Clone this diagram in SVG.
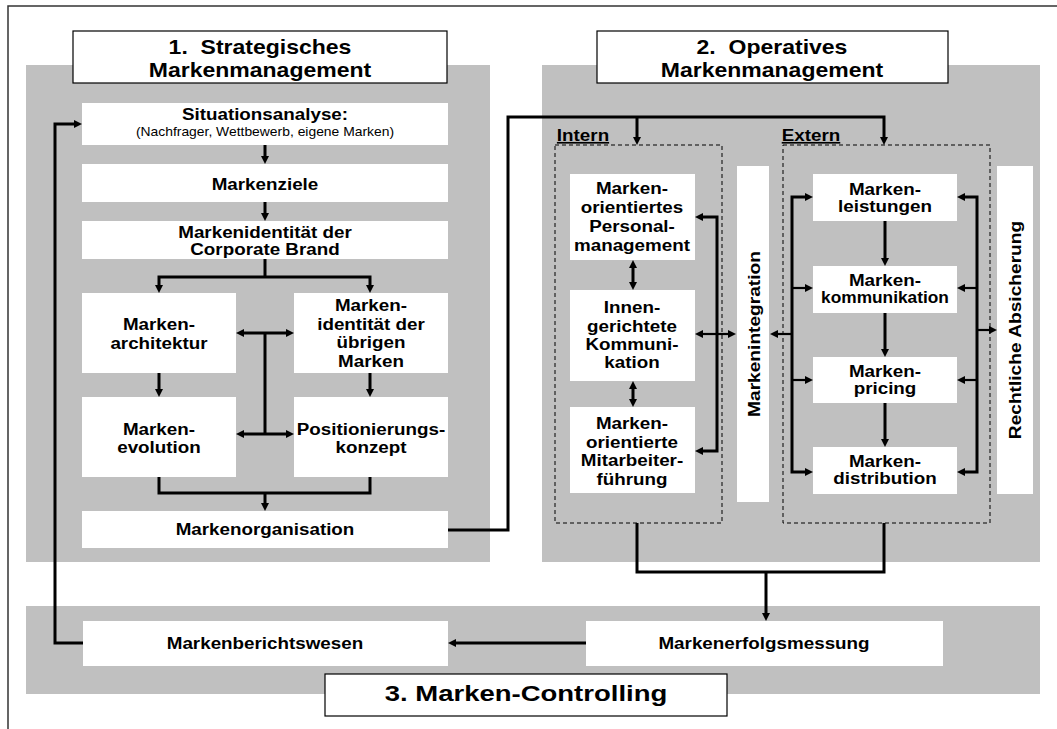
<svg xmlns="http://www.w3.org/2000/svg" width="1057" height="729" viewBox="0 0 1057 729">
<style>
text{font-family:"Liberation Sans",Arial,Helvetica,sans-serif;fill:#000;text-anchor:middle;transform-box:fill-box;transform-origin:center}
.n{font-weight:bold;font-size:16.8px;transform:scaleX(1.12)}
.s{font-size:12.4px;transform:scaleX(1.12)}
.t{font-weight:bold;font-size:20px;transform:scaleX(1.15)}
.t3{font-weight:bold;font-size:22px;transform:scaleX(1.25)}
.v{font-weight:bold;font-size:16.8px;dominant-baseline:central;transform:rotate(-90deg) scaleX(1.14)}
.lbl{font-weight:bold;font-size:16.8px;text-decoration:underline;transform:scaleX(1.12)}
.panel{fill:#c0c0c0}
.box{fill:#fff}
.title{fill:#fff;stroke:#000;stroke-width:1.2}
.dash{fill:none;stroke:#000;stroke-width:1;stroke-dasharray:4 3}
.c path{fill:none;stroke:#000;stroke-width:3}
.c path.th{stroke-width:2.2}
.a{marker-end:url(#ah)}
.b{marker-start:url(#ah);marker-end:url(#ah)}
</style>
<defs>
<marker id="ah" viewBox="0 0 8 8" refX="3" refY="4" markerWidth="8" markerHeight="8" markerUnits="userSpaceOnUse" orient="auto-start-reverse">
<path d="M0,0 L8,4 L0,8 z" fill="#000"/>
</marker>
</defs>
<rect width="1057" height="729" fill="#fff"/>
<path d="M8,729 V6 H1057" fill="none" stroke="#333" stroke-width="1.5"/>

<g id="panels">
<rect class="panel" x="26" y="65" width="464" height="497"/>
<rect class="panel" x="542" y="65" width="498" height="497"/>
<rect class="panel" x="26" y="606" width="1014" height="88"/>
</g>

<g id="title1"><rect class="title" x="73" y="31" width="374" height="52"/>
<text class="t" x="260" y="54">1.&#160; Strategisches</text>
<text class="t" x="260" y="77">Markenmanagement</text></g>
<g id="title2"><rect class="title" x="597" y="31" width="351" height="52"/>
<text class="t" x="772" y="54">2.&#160; Operatives</text>
<text class="t" x="772" y="77">Markenmanagement</text></g>
<g id="title3"><rect class="title" x="325" y="674" width="402" height="42"/>
<text class="t3" x="526" y="701">3. Marken-Controlling</text></g>

<g id="situationsanalyse"><rect class="box" x="82" y="103" width="366" height="42"/>
<text class="n" x="265" y="120.5">Situationsanalyse:</text>
<text class="s" x="265" y="136">(Nachfrager, Wettbewerb, eigene Marken)</text></g>
<g id="markenziele"><rect class="box" x="82" y="164" width="366" height="38"/>
<text class="n" x="265" y="190">Markenziele</text></g>
<g id="corporate"><rect class="box" x="82" y="221" width="366" height="38"/>
<text class="n" x="265" y="238">Markenidentität der</text>
<text class="n" x="265" y="255">Corporate Brand</text></g>
<g id="architektur"><rect class="box" x="82" y="293" width="154" height="80"/>
<text class="n" x="159" y="330">Marken-</text>
<text class="n" x="159" y="349">architektur</text></g>
<g id="uebrige"><rect class="box" x="294" y="293" width="154" height="80"/>
<text class="n" x="371" y="311">Marken-</text>
<text class="n" x="371" y="330">identität der</text>
<text class="n" x="371" y="348">übrigen</text>
<text class="n" x="371" y="367">Marken</text></g>
<g id="evolution"><rect class="box" x="82" y="397" width="154" height="80"/>
<text class="n" x="159" y="435">Marken-</text>
<text class="n" x="159" y="453">evolution</text></g>
<g id="positionierung"><rect class="box" x="294" y="397" width="154" height="80"/>
<text class="n" x="371" y="435">Positionierungs-</text>
<text class="n" x="371" y="453">konzept</text></g>
<g id="organisation"><rect class="box" x="82" y="511" width="366" height="37"/>
<text class="n" x="265" y="535">Markenorganisation</text></g>

<g id="intern"><rect class="dash" x="555" y="145" width="167" height="378"/>
<text class="lbl" x="583" y="141">Intern</text></g>
<g id="extern"><rect class="dash" x="783" y="145" width="207" height="378"/>
<text class="lbl" x="811" y="141">Extern</text></g>

<g id="personal"><rect class="box" x="570" y="174" width="125" height="86"/>
<text class="n" x="632" y="194.5">Marken-</text>
<text class="n" x="632" y="213.5">orientiertes</text>
<text class="n" x="632" y="232.5">Personal-</text>
<text class="n" x="632" y="251.5">management</text></g>
<g id="innen"><rect class="box" x="570" y="290" width="125" height="91"/>
<text class="n" x="632" y="313">Innen-</text>
<text class="n" x="632" y="332">gerichtete</text>
<text class="n" x="632" y="350">Kommuni-</text>
<text class="n" x="632" y="368">kation</text></g>
<g id="mitarbeiter"><rect class="box" x="570" y="407" width="125" height="86"/>
<text class="n" x="632" y="429">Marken-</text>
<text class="n" x="632" y="448">orientierte</text>
<text class="n" x="632" y="466">Mitarbeiter-</text>
<text class="n" x="632" y="485">führung</text></g>
<g id="integration"><rect class="box" x="737" y="166" width="32" height="336"/>
<text class="v" x="754" y="334">Markenintegration</text></g>

<g id="leistungen"><rect class="box" x="813" y="174" width="144" height="47"/>
<text class="n" x="885" y="195">Marken-</text>
<text class="n" x="885" y="212.5">leistungen</text></g>
<g id="kommunikation"><rect class="box" x="813" y="266" width="144" height="47"/>
<text class="n" x="885" y="286">Marken-</text>
<text class="n" x="885" y="303.5" style="transform:scaleX(1.03)">kommunikation</text></g>
<g id="pricing"><rect class="box" x="813" y="357" width="144" height="46"/>
<text class="n" x="885" y="377">Marken-</text>
<text class="n" x="885" y="394">pricing</text></g>
<g id="distribution"><rect class="box" x="813" y="447" width="144" height="47"/>
<text class="n" x="885" y="467">Marken-</text>
<text class="n" x="885" y="484">distribution</text></g>
<g id="rechtlich"><rect class="box" x="997" y="166" width="36" height="328"/>
<text class="v" x="1015" y="330">Rechtliche Absicherung</text></g>

<g id="erfolgsmessung"><rect class="box" x="586" y="621" width="357" height="45"/>
<text class="n" x="764" y="649">Markenerfolgsmessung</text></g>
<g id="berichtswesen"><rect class="box" x="83" y="621" width="365" height="45"/>
<text class="n" x="265" y="649">Markenberichtswesen</text></g>

<g id="connectors" class="c">
<path class="a" d="M83,643 H55 V124 H77"/>
<path class="a" d="M265,145 V159"/>
<path class="a" d="M265,202 V216"/>
<path d="M265,259 V277"/>
<path class="b" d="M159,288 V277 H370 V288"/>
<path class="a" d="M159,373 V392"/>
<path class="a" d="M370,373 V392"/>
<path d="M265,333 V434"/>
<path class="b" d="M241,333 H289"/>
<path class="b" d="M241,434 H289"/>
<path d="M159,477 V493 H370 V477"/>
<path class="a" d="M265,493 V506"/>
<path class="a" d="M448,530 H508 V117 H884 V140"/>
<path class="a" d="M637,117 V140"/>
<path d="M637,523 V572 H884 V523"/>
<path class="a" d="M766,572 V616"/>
<path class="a" d="M586,643 H453"/>
<path class="b" d="M633,265 V285"/>
<path class="b" d="M633,386 V402"/>
<path class="b" d="M700,217 H717 V451 H700"/>
<path class="b th" d="M700,334 H731"/>
<path class="a" d="M885,221 V261"/>
<path class="a" d="M885,313 V352"/>
<path class="a" d="M885,403 V442"/>
<path class="b" d="M808,197 H792 V472 H808"/>
<path class="a th" d="M792,288 H808"/>
<path class="a th" d="M792,380 H808"/>
<path class="a th" d="M792,334 H775"/>
<path class="b" d="M962,197 H977 V472 H962"/>
<path class="a th" d="M977,288 H962"/>
<path class="a th" d="M977,380 H962"/>
<path class="a th" d="M977,330 H992"/>
</g>
</svg>
